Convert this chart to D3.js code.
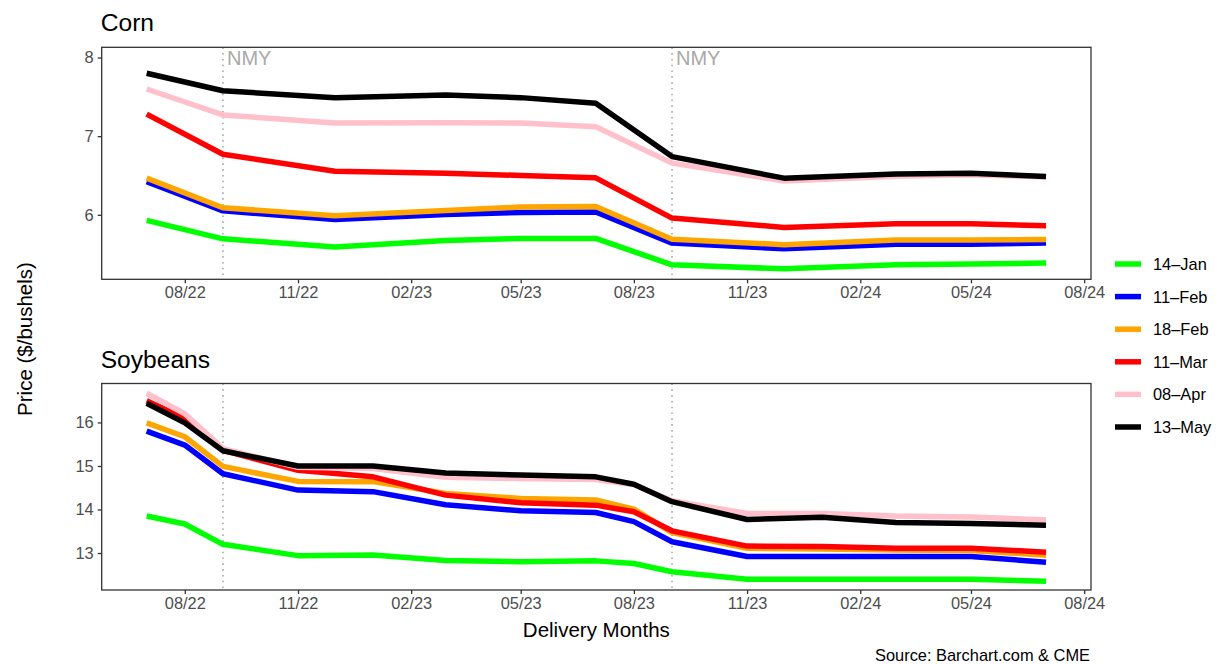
<!DOCTYPE html>
<html>
<head>
<meta charset="utf-8">
<script src="https://cdn.jsdelivr.net/npm/d3@7"></script>
<style>
  body { margin: 0; background: #fff; }
  svg { font-family: "Liberation Sans", Arial, Helvetica, sans-serif; }
</style>
</head>
<body>
<svg id="chart" width="1219" height="664"></svg>
<script>
// delivery months (contract month, first of month)
const cornMonths = ["2022-07", "2022-09", "2022-12", "2023-03", "2023-05", "2023-07",
  "2023-09", "2023-12", "2024-03", "2024-05", "2024-07"];
const soyMonths = ["2022-07", "2022-08", "2022-09", "2022-11", "2023-01", "2023-03",
  "2023-05", "2023-07", "2023-08", "2023-09", "2023-11", "2024-01", "2024-03",
  "2024-05", "2024-07"];

const seriesNames = ["14\u2013Jan", "11\u2013Feb", "18\u2013Feb", "11\u2013Mar", "08\u2013Apr", "13\u2013May"];
const seriesColors = ["#00ff00", "#0000ff", "#ffa500", "#ff0000", "#ffc0cb", "#000000"];

// corn prices ($/bushel), one array per quote date
const cornJan14 = [5.93, 5.695, 5.59, 5.674, 5.70, 5.70, 5.364, 5.313, 5.364, 5.373, 5.386];
const cornFeb11 = [6.42, 6.05, 5.94, 6.004, 6.03, 6.035, 5.64, 5.568, 5.627, 5.627, 5.64];
const cornFeb18 = [6.466, 6.09, 5.987, 6.055, 6.098, 6.106, 5.69, 5.62, 5.68, 5.68, 5.686];
const cornMar11 = [7.28, 6.77, 6.555, 6.53, 6.50, 6.47, 5.958, 5.84, 5.886, 5.886, 5.86];
const cornApr08 = [7.60, 7.27, 7.166, 7.17, 7.166, 7.12, 6.657, 6.43, 6.49, 6.51, 6.48];
const cornMay13 = [7.80, 7.577, 7.49, 7.522, 7.49, 7.42, 6.74, 6.466, 6.52, 6.53, 6.487];

// soybean prices ($/bushel)
const soyJan14 = [13.85, 13.666, 13.20, 12.94, 12.954, 12.83, 12.80, 12.82, 12.76, 12.57, 12.40, 12.40, 12.40, 12.40, 12.35];
const soyFeb11 = [15.80, 15.48, 14.82, 14.446, 14.41, 14.11, 13.97, 13.93, 13.72, 13.26, 12.92, 12.92, 12.92, 12.92, 12.79];
const soyFeb18 = [15.99, 15.67, 14.99, 14.645, 14.64, 14.37, 14.255, 14.22, 14.01, 13.47, 13.11, 13.09, 13.07, 13.06, 12.95];
const soyMar11 = [16.50, 16.09, 15.36, 14.90, 14.75, 14.33, 14.155, 14.10, 13.95, 13.51, 13.16, 13.15, 13.11, 13.11, 13.02];
const soyApr08 = [16.67, 16.20, 15.40, 14.97, 14.94, 14.74, 14.71, 14.69, 14.57, 14.20, 13.91, 13.91, 13.85, 13.83, 13.76];
const soyMay13 = [16.44, 15.99, 15.35, 15.00, 15.00, 14.84, 14.79, 14.75, 14.58, 14.18, 13.77, 13.82, 13.70, 13.68, 13.64];

const nmyMonths = ["2022-09", "2023-09"];
const xTickMonths = ["2022-08", "2022-11", "2023-02", "2023-05", "2023-08", "2023-11",
  "2024-02", "2024-05", "2024-08"];
const cornTicks = [6, 7, 8];
const soyTicks = [13, 14, 15, 16];

const parseMonth = d3.timeParse("%Y-%m");
const fmtTick = d3.timeFormat("%m/%y");

const svg = d3.select("#chart");
const plotLeft = 101.7, plotRight = 1091;
const tickFont = "16.4px", tickColor = "#4d4d4d";

// x scale: data extent expanded 5% on each side
const allDates = cornMonths.map(parseMonth);
const [dMin, dMax] = d3.extent(allDates);
const pad = (dMax - dMin) * 0.05;
const x = d3.scaleTime()
  .domain([new Date(+dMin - pad), new Date(+dMax + pad)])
  .range([plotLeft, plotRight]);

function drawPanel(opts) {
  const { title, top, bottom, months, series, yDomain, yTicks, nmyText } = opts;
  const g = svg.append("g");

  const y = d3.scaleLinear().domain(yDomain).range([bottom, top]);

  // NMY reference lines
  nmyMonths.forEach(m => {
    const xx = x(parseMonth(m));
    g.append("line")
      .attr("x1", xx).attr("x2", xx)
      .attr("y1", top).attr("y2", bottom)
      .style("stroke", "#a9a9a9")
      .style("stroke-width", 1.6)
      .style("stroke-dasharray", "1.6 4.2");
    if (nmyText) {
      g.append("text")
        .attr("x", xx + 4)
        .attr("y", top + 18)
        .style("font-size", "20px")
        .style("fill", "#a9a9a9")
        .text("NMY");
    }
  });

  // lines
  const dates = months.map(parseMonth);
  const line = d3.line()
    .x((d, i) => x(dates[i]))
    .y(d => y(d));

  series.forEach((vals, i) => {
    g.append("path")
      .datum(vals)
      .attr("d", line)
      .style("fill", "none")
      .style("stroke", seriesColors[i])
      .style("stroke-width", 5.5)
      .style("stroke-linejoin", "round")
      .style("stroke-linecap", "butt");
  });

  // panel border
  g.append("rect")
    .attr("x", plotLeft).attr("y", top)
    .attr("width", plotRight - plotLeft).attr("height", bottom - top)
    .style("fill", "none")
    .style("stroke", "#333333")
    .style("stroke-width", 1.3);

  // x axis
  const xAxis = g.append("g")
    .attr("transform", `translate(0, ${bottom})`)
    .call(d3.axisBottom(x)
      .tickValues(xTickMonths.map(parseMonth))
      .tickFormat(fmtTick)
      .tickSize(4)
      .tickPadding(3));
  xAxis.select(".domain").remove();
  xAxis.selectAll("line").style("stroke", "#333333").style("stroke-width", 1.3);
  xAxis.selectAll("text")
    .style("font-size", tickFont)
    .style("fill", tickColor)
    .style("font-family", "'Liberation Sans', Arial, sans-serif");

  // y axis
  const yAxis = g.append("g")
    .attr("transform", `translate(${plotLeft}, 0)`)
    .call(d3.axisLeft(y).tickValues(yTicks).tickFormat(d3.format("d")).tickSize(4).tickPadding(4));
  yAxis.select(".domain").remove();
  yAxis.selectAll("line").style("stroke", "#333333").style("stroke-width", 1.3);
  yAxis.selectAll("text")
    .style("font-size", tickFont)
    .style("fill", tickColor)
    .style("font-family", "'Liberation Sans', Arial, sans-serif");

  // title
  g.append("text")
    .attr("x", plotLeft - 1)
    .attr("y", top - 16)
    .style("font-size", "24.6px")
    .style("fill", "#000")
    .text(title);
}

drawPanel({
  title: "Corn",
  top: 47.3, bottom: 279.3,
  months: cornMonths,
  series: [cornJan14, cornFeb11, cornFeb18, cornMar11, cornApr08, cornMay13],
  yDomain: [5.18, 8.13],
  yTicks: cornTicks,
  nmyText: true
});

drawPanel({
  title: "Soybeans",
  top: 383.5, bottom: 590,
  months: soyMonths,
  series: [soyJan14, soyFeb11, soyFeb18, soyMar11, soyApr08, soyMay13],
  yDomain: [12.151, 16.894],
  yTicks: soyTicks,
  nmyText: false
});

// axis titles
svg.append("text")
  .attr("x", (plotLeft + plotRight) / 2)
  .attr("y", 637)
  .attr("text-anchor", "middle")
  .style("font-size", "20.5px")
  .text("Delivery Months");

svg.append("text")
  .attr("transform", "translate(32, 339) rotate(-90)")
  .attr("text-anchor", "middle")
  .style("font-size", "20.5px")
  .text("Price ($/bushels)");

// legend
const legend = svg.append("g").attr("transform", "translate(1115, 264)");
seriesNames.forEach((name, i) => {
  const row = legend.append("g").attr("transform", `translate(0, ${i * 32.6})`);
  row.append("line")
    .attr("x1", 0).attr("x2", 26)
    .attr("y1", 0).attr("y2", 0)
    .style("stroke", seriesColors[i])
    .style("stroke-width", 5.5);
  row.append("text")
    .attr("x", 38)
    .attr("y", 6)
    .style("font-size", tickFont)
    .text(name);
});

// source note
svg.append("text")
  .attr("x", plotRight - 1)
  .attr("y", 661)
  .attr("text-anchor", "end")
  .style("font-size", tickFont)
  .text("Source: Barchart.com & CME");
</script>
</body>
</html>
